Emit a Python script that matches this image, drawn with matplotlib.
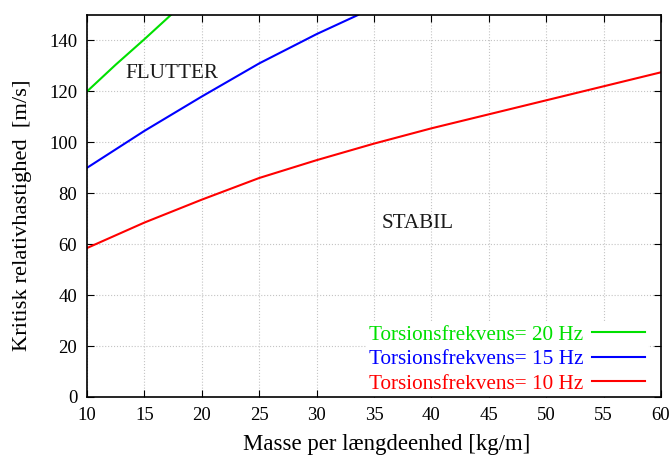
import numpy as np
import matplotlib
matplotlib.use("Agg")
import matplotlib.pyplot as plt

plt.rcParams['font.family'] = ['Liberation Serif', 'DejaVu Serif']

# critical relative velocity vs. mass per unit length, one curve per torsion frequency
masse_10 = [10, 15, 20, 25, 30, 35, 40, 45, 50, 55, 60]
v_10 = [58.5, 68.5, 77.5, 86, 93, 99.5, 105.5, 111, 116.5, 122, 127.5]

masse_15 = [10, 15, 20, 25, 30, 33.6]
v_15 = [90, 104.5, 118, 131, 142.5, 150]

masse_20 = [10, 12.5, 15, 17.3]
v_20 = [120, 130.5, 140.5, 150]

x_ticks = np.arange(10, 61, 5)
y_ticks = np.arange(0, 141, 20)

fig = plt.figure(figsize=(6.72, 4.58), dpi=100)
ax = fig.add_axes([0.1295, 0.1332, 0.854, 0.834])

ax.plot(masse_20, v_20, color='#00e000', lw=1.5, label='Torsionsfrekvens= 20 Hz')
ax.plot(masse_15, v_15, color='#0000ff', lw=1.5, label='Torsionsfrekvens= 15 Hz')
ax.plot(masse_10, v_10, color='#ff0000', lw=1.5, label='Torsionsfrekvens= 10 Hz')

# grid as plain lines so the key box can hide it without hiding the ticks
for xv in x_ticks:
    ax.axvline(xv, color='#c4c4c4', linestyle=':', linewidth=0.8, zorder=0.8)
for yv in y_ticks:
    ax.axhline(yv, color='#c4c4c4', linestyle=':', linewidth=0.8, zorder=0.8)

ax.set_xlim(10, 60)
ax.set_ylim(0, 150)
ax.set_xticks(x_ticks)
ax.set_yticks(y_ticks)
ax.tick_params(direction='in', top=True, right=True, length=5, labelsize=13.5, pad=7)
for s in ax.spines.values():
    s.set_linewidth(1.2)

ax.set_xlabel('Masse per længdeenhed [kg/m]', fontsize=16.4)
ax.xaxis.set_label_coords(0.522, -0.098)
ax.set_ylabel('Kritisk relativhastighed  [m/s]', fontsize=16.2)
ax.yaxis.set_label_coords(-0.096, 0.475)

ax.text(17.4, 127, 'FLUTTER', fontsize=15.2, ha='center', va='center', color='#1a1a1a')
ax.text(38.8, 68.3, 'STABIL', fontsize=15.2, ha='center', va='center', color='#1a1a1a')

leg = ax.legend(loc='lower right', bbox_to_anchor=(0.978, 0.0),
                markerfirst=False, labelcolor='linecolor',
                frameon=True, facecolor='white', edgecolor='none', framealpha=1,
                fontsize=15.3, handlelength=2.5, handletextpad=0.4,
                labelspacing=0.22, borderaxespad=0.0, borderpad=0.15)
leg.get_frame().set_boxstyle('square', pad=0)
leg.set_zorder(1.5)

fig.savefig('out.png', dpi=100)
